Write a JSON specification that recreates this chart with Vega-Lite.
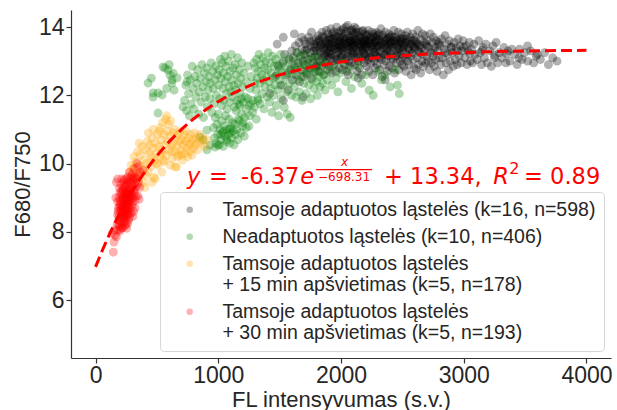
{
"$schema": "https://vega.github.io/schema/vega-lite/v6.json",
"width": 540,
"height": 348,
"autosize": {"type": "none"},
"padding": {"left": 71, "top": 10, "right": 6, "bottom": 52},
"background": "white",
"config": {
  "view": {"stroke": null},
  "font": "Liberation Sans",
  "axis": {"grid": false, "domainColor": "#333333", "tickColor": "#333333", "labelColor": "#262626", "titleColor": "#262626", "labelFont": "Liberation Sans", "titleFont": "Liberation Sans", "labelFontSize": 23, "titleFontSize": 22, "titleFontWeight": "normal", "tickSize": 5, "domainWidth": 1.2, "tickWidth": 1.2}
},
"datasets": {
"T": [
{"x":1420,"y":12.05},{"x":1465,"y":12.55},{"x":1490,"y":12.85},{"x":1480,"y":13.5},
{"x":1510,"y":12.3},{"x":1525,"y":12.95},{"x":1540,"y":13.2},{"x":1555,"y":12.6},{"x":1570,"y":12.15},{"x":1580,"y":13.05},{"x":1590,"y":12.75},{"x":1598,"y":13.3},{"x":1530,"y":11.85},{"x":1530,"y":13.7},
{"x":1605,"y":12.45},{"x":1612,"y":13.1},{"x":1620,"y":12.85},{"x":1628,"y":13.45},{"x":1635,"y":12.6},{"x":1642,"y":13.25},{"x":1650,"y":12.95},{"x":1657,"y":13.55},{"x":1663,"y":12.4},{"x":1670,"y":13.15},{"x":1676,"y":12.75},{"x":1683,"y":13.35},{"x":1690,"y":13.0},{"x":1695,"y":12.55},{"x":1699,"y":13.6},{"x":1690,"y":11.95},{"x":1620,"y":13.8},
{"x":1703,"y":13.2},{"x":1708,"y":12.9},{"x":1714,"y":13.5},{"x":1719,"y":12.65},{"x":1725,"y":13.35},{"x":1730,"y":13.05},{"x":1736,"y":13.7},{"x":1741,"y":12.8},{"x":1747,"y":13.25},{"x":1752,"y":13.45},{"x":1758,"y":12.5},{"x":1763,"y":13.1},{"x":1769,"y":13.6},{"x":1774,"y":12.95},{"x":1779,"y":13.3},{"x":1784,"y":13.5},{"x":1788,"y":12.7},{"x":1792,"y":13.15},{"x":1795,"y":13.4},{"x":1797,"y":12.85},{"x":1799,"y":13.65},{"x":1760,"y":13.85},
{"x":1802,"y":13.3},{"x":1806,"y":12.9},{"x":1809,"y":13.55},{"x":1813,"y":13.15},{"x":1817,"y":13.75},{"x":1820,"y":12.7},{"x":1824,"y":13.4},{"x":1828,"y":13.0},{"x":1831,"y":13.6},{"x":1835,"y":13.25},{"x":1839,"y":12.85},{"x":1842,"y":13.5},{"x":1846,"y":13.85},{"x":1850,"y":13.1},{"x":1853,"y":13.35},{"x":1857,"y":12.6},{"x":1860,"y":13.7},{"x":1864,"y":13.2},{"x":1867,"y":13.45},{"x":1871,"y":12.95},{"x":1874,"y":13.6},{"x":1878,"y":13.3},{"x":1881,"y":13.9},{"x":1885,"y":13.05},{"x":1888,"y":13.5},{"x":1891,"y":12.75},{"x":1894,"y":13.4},{"x":1896,"y":13.15},{"x":1898,"y":13.65},{"x":1899,"y":13.25},
{"x":1902,"y":13.5},{"x":1905,"y":12.85},{"x":1908,"y":13.3},{"x":1911,"y":13.7},{"x":1914,"y":13.1},{"x":1917,"y":13.95},{"x":1920,"y":13.4},{"x":1923,"y":12.65},{"x":1926,"y":13.55},{"x":1929,"y":13.2},{"x":1932,"y":13.8},{"x":1935,"y":13.0},{"x":1938,"y":13.45},{"x":1941,"y":13.65},{"x":1944,"y":12.9},{"x":1947,"y":13.35},{"x":1950,"y":13.75},{"x":1953,"y":13.15},{"x":1956,"y":13.55},{"x":1959,"y":12.7},{"x":1962,"y":13.4},{"x":1965,"y":14.0},{"x":1968,"y":13.25},{"x":1971,"y":13.6},{"x":1974,"y":13.05},{"x":1977,"y":13.5},{"x":1980,"y":13.85},{"x":1983,"y":13.3},{"x":1986,"y":12.8},{"x":1989,"y":13.45},{"x":1991,"y":13.7},{"x":1993,"y":13.1},{"x":1995,"y":13.6},{"x":1997,"y":13.35},{"x":1999,"y":13.9},
{"x":2002,"y":13.45},{"x":2005,"y":13.1},{"x":2008,"y":13.7},{"x":2011,"y":12.75},{"x":2014,"y":13.55},{"x":2017,"y":13.3},{"x":2020,"y":13.95},{"x":2023,"y":13.2},{"x":2026,"y":13.6},{"x":2029,"y":12.9},{"x":2032,"y":13.4},{"x":2035,"y":13.8},{"x":2038,"y":13.05},{"x":2041,"y":13.5},{"x":2044,"y":13.65},{"x":2047,"y":12.7},{"x":2050,"y":13.35},{"x":2053,"y":14.05},{"x":2056,"y":13.25},{"x":2059,"y":13.55},{"x":2062,"y":13.0},{"x":2065,"y":13.75},{"x":2068,"y":13.4},{"x":2071,"y":12.85},{"x":2074,"y":13.6},{"x":2077,"y":13.15},{"x":2080,"y":13.9},{"x":2083,"y":13.45},{"x":2086,"y":13.3},{"x":2089,"y":12.95},{"x":2091,"y":13.7},{"x":2093,"y":13.5},{"x":2095,"y":13.2},{"x":2097,"y":13.85},{"x":2099,"y":13.4},{"x":2040,"y":14.0},{"x":2060,"y":12.6},{"x":2085,"y":13.6},
{"x":2102,"y":13.55},{"x":2105,"y":13.2},{"x":2108,"y":13.8},{"x":2111,"y":12.9},{"x":2114,"y":13.45},{"x":2117,"y":13.65},{"x":2120,"y":13.1},{"x":2123,"y":13.95},{"x":2126,"y":13.35},{"x":2129,"y":12.7},{"x":2132,"y":13.6},{"x":2135,"y":13.25},{"x":2138,"y":13.75},{"x":2141,"y":13.0},{"x":2144,"y":13.5},{"x":2147,"y":13.4},{"x":2150,"y":12.8},{"x":2153,"y":13.85},{"x":2156,"y":13.3},{"x":2159,"y":13.6},{"x":2162,"y":13.15},{"x":2165,"y":13.7},{"x":2168,"y":12.6},{"x":2171,"y":13.45},{"x":2174,"y":13.55},{"x":2177,"y":13.05},{"x":2180,"y":13.9},{"x":2183,"y":13.35},{"x":2186,"y":13.65},{"x":2189,"y":12.95},{"x":2191,"y":13.5},{"x":2193,"y":13.2},{"x":2195,"y":13.8},{"x":2197,"y":13.4},{"x":2199,"y":13.6},{"x":2110,"y":14.0},{"x":2140,"y":12.5},{"x":2175,"y":13.3},
{"x":2202,"y":13.5},{"x":2205,"y":13.15},{"x":2208,"y":13.75},{"x":2211,"y":12.85},{"x":2214,"y":13.4},{"x":2217,"y":13.6},{"x":2220,"y":13.05},{"x":2223,"y":13.9},{"x":2226,"y":13.3},{"x":2229,"y":12.7},{"x":2232,"y":13.55},{"x":2235,"y":13.2},{"x":2238,"y":13.7},{"x":2241,"y":12.95},{"x":2244,"y":13.45},{"x":2247,"y":13.65},{"x":2250,"y":13.1},{"x":2253,"y":13.85},{"x":2256,"y":13.35},{"x":2259,"y":12.6},{"x":2262,"y":13.5},{"x":2265,"y":13.25},{"x":2268,"y":13.8},{"x":2271,"y":13.0},{"x":2274,"y":13.55},{"x":2277,"y":13.4},{"x":2280,"y":12.8},{"x":2283,"y":13.7},{"x":2286,"y":13.15},{"x":2289,"y":13.6},{"x":2291,"y":13.35},{"x":2293,"y":12.9},{"x":2295,"y":13.75},{"x":2297,"y":13.45},{"x":2299,"y":13.2},
{"x":2303,"y":13.6},{"x":2307,"y":13.1},{"x":2310,"y":13.8},{"x":2314,"y":12.75},{"x":2318,"y":13.45},{"x":2321,"y":13.3},{"x":2325,"y":13.95},{"x":2329,"y":13.05},{"x":2332,"y":13.55},{"x":2336,"y":12.55},{"x":2340,"y":13.4},{"x":2343,"y":13.7},{"x":2347,"y":13.2},{"x":2351,"y":12.9},{"x":2354,"y":13.6},{"x":2358,"y":13.35},{"x":2362,"y":13.85},{"x":2365,"y":13.0},{"x":2369,"y":13.5},{"x":2372,"y":13.25},{"x":2376,"y":12.7},{"x":2380,"y":13.65},{"x":2383,"y":13.15},{"x":2387,"y":13.45},{"x":2390,"y":13.8},{"x":2393,"y":12.85},{"x":2395,"y":13.55},{"x":2397,"y":13.3},{"x":2399,"y":13.7},{"x":2360,"y":12.45},
{"x":2403,"y":13.5},{"x":2407,"y":13.2},{"x":2411,"y":13.75},{"x":2415,"y":12.8},{"x":2418,"y":13.4},{"x":2422,"y":13.6},{"x":2426,"y":13.05},{"x":2430,"y":13.9},{"x":2434,"y":13.3},{"x":2437,"y":12.65},{"x":2441,"y":13.55},{"x":2445,"y":13.15},{"x":2449,"y":13.7},{"x":2452,"y":12.95},{"x":2456,"y":13.45},{"x":2460,"y":13.6},{"x":2464,"y":13.25},{"x":2467,"y":13.85},{"x":2471,"y":12.75},{"x":2475,"y":13.5},{"x":2479,"y":13.35},{"x":2482,"y":13.0},{"x":2486,"y":13.65},{"x":2490,"y":13.2},{"x":2493,"y":13.8},{"x":2496,"y":12.9},{"x":2498,"y":13.4},{"x":2499,"y":13.55},
{"x":2504,"y":13.3},{"x":2508,"y":13.65},{"x":2512,"y":12.85},{"x":2516,"y":13.45},{"x":2520,"y":13.1},{"x":2524,"y":13.75},{"x":2528,"y":12.7},{"x":2532,"y":13.55},{"x":2536,"y":13.2},{"x":2540,"y":13.85},{"x":2544,"y":13.0},{"x":2548,"y":13.4},{"x":2552,"y":13.6},{"x":2556,"y":12.9},{"x":2560,"y":13.3},{"x":2564,"y":13.7},{"x":2568,"y":13.15},{"x":2572,"y":12.6},{"x":2576,"y":13.5},{"x":2580,"y":13.25},{"x":2584,"y":13.8},{"x":2588,"y":13.05},{"x":2592,"y":13.45},{"x":2595,"y":12.8},{"x":2598,"y":13.6},
{"x":2604,"y":13.35},{"x":2609,"y":13.7},{"x":2613,"y":12.75},{"x":2618,"y":13.5},{"x":2622,"y":13.1},{"x":2627,"y":13.9},{"x":2631,"y":12.9},{"x":2636,"y":13.45},{"x":2640,"y":13.25},{"x":2645,"y":13.65},{"x":2649,"y":12.65},{"x":2654,"y":13.4},{"x":2658,"y":13.0},{"x":2663,"y":13.8},{"x":2667,"y":13.2},{"x":2672,"y":12.85},{"x":2676,"y":13.55},{"x":2681,"y":13.3},{"x":2685,"y":13.75},{"x":2690,"y":12.95},{"x":2694,"y":13.5},{"x":2698,"y":13.15},
{"x":2705,"y":13.6},{"x":2710,"y":13.0},{"x":2716,"y":13.4},{"x":2721,"y":12.75},{"x":2727,"y":13.8},{"x":2732,"y":13.25},{"x":2738,"y":12.95},{"x":2743,"y":13.55},{"x":2749,"y":13.15},{"x":2754,"y":13.7},{"x":2760,"y":12.85},{"x":2765,"y":13.4},{"x":2771,"y":13.05},{"x":2776,"y":13.6},{"x":2782,"y":12.7},{"x":2787,"y":13.3},{"x":2793,"y":13.5},{"x":2798,"y":13.1},
{"x":2806,"y":13.45},{"x":2813,"y":12.9},{"x":2820,"y":13.65},{"x":2827,"y":13.1},{"x":2834,"y":12.6},{"x":2841,"y":13.35},{"x":2848,"y":13.75},{"x":2855,"y":12.95},{"x":2862,"y":13.5},{"x":2869,"y":13.2},{"x":2876,"y":12.75},{"x":2883,"y":13.6},{"x":2890,"y":13.0},{"x":2897,"y":13.4},
{"x":2907,"y":13.25},{"x":2915,"y":12.85},{"x":2923,"y":13.55},{"x":2931,"y":13.05},{"x":2939,"y":13.4},{"x":2947,"y":12.9},{"x":2955,"y":13.65},{"x":2963,"y":13.15},{"x":2971,"y":13.45},{"x":2979,"y":12.95},{"x":2987,"y":13.3},{"x":2995,"y":13.6},
{"x":3008,"y":13.1},{"x":3018,"y":13.45},{"x":3027,"y":12.9},{"x":3036,"y":13.3},{"x":3046,"y":13.55},{"x":3055,"y":13.0},{"x":3064,"y":13.35},{"x":3073,"y":12.95},{"x":3083,"y":13.5},{"x":3092,"y":13.2},
{"x":3110,"y":13.05},{"x":3122,"y":13.6},{"x":3134,"y":13.25},{"x":3145,"y":12.9},{"x":3157,"y":13.4},{"x":3168,"y":13.1},{"x":3180,"y":13.5},{"x":3192,"y":12.95},
{"x":3212,"y":13.3},{"x":3225,"y":12.85},{"x":3238,"y":13.45},{"x":3251,"y":13.1},{"x":3264,"y":13.55},{"x":3277,"y":12.95},{"x":3290,"y":13.25},
{"x":3312,"y":13.1},{"x":3328,"y":13.4},{"x":3344,"y":12.95},{"x":3360,"y":13.3},{"x":3376,"y":13.0},{"x":3392,"y":13.35},
{"x":3415,"y":13.2},{"x":3435,"y":12.9},{"x":3455,"y":13.35},{"x":3475,"y":13.05},{"x":3495,"y":13.25},
{"x":3520,"y":13.0},{"x":3545,"y":13.3},{"x":3570,"y":12.95},{"x":3590,"y":13.15},
{"x":3625,"y":13.05},{"x":3660,"y":13.25},{"x":3690,"y":12.9},{"x":3725,"y":13.1},{"x":3760,"y":13.0},
{"x":1820,"y":13.62},{"x":1835,"y":13.48},{"x":1848,"y":13.72},{"x":1862,"y":13.38},{"x":1877,"y":13.55},{"x":1890,"y":13.8},{"x":1905,"y":13.62},{"x":1918,"y":13.42},{"x":1928,"y":13.67},{"x":1940,"y":13.85},{"x":1952,"y":13.48},{"x":1966,"y":13.72},{"x":1978,"y":13.38},{"x":1990,"y":13.58},{"x":2003,"y":13.82},{"x":2012,"y":13.42},{"x":2024,"y":13.66},{"x":2036,"y":13.52},{"x":2048,"y":13.88},{"x":2058,"y":13.44},{"x":2070,"y":13.68},{"x":2082,"y":13.58},{"x":2094,"y":13.92},{"x":2104,"y":13.46},{"x":2116,"y":13.62},{"x":2128,"y":13.84},{"x":2137,"y":13.52},{"x":2149,"y":13.7},{"x":2160,"y":13.44},{"x":2172,"y":13.88},{"x":2184,"y":13.56},{"x":2196,"y":13.66},{"x":2207,"y":13.42},{"x":2218,"y":13.78},{"x":2230,"y":13.52},{"x":2242,"y":13.62},{"x":2254,"y":13.46},{"x":2266,"y":13.72},{"x":2278,"y":13.58},{"x":2290,"y":13.84},{"x":2302,"y":13.44},{"x":2315,"y":13.64},{"x":2327,"y":13.52},{"x":2339,"y":13.76},{"x":2352,"y":13.46},{"x":2364,"y":13.62},{"x":2377,"y":13.38},{"x":2389,"y":13.68},{"x":2402,"y":13.56},{"x":2414,"y":13.44},{"x":2427,"y":13.7},{"x":2440,"y":13.5},{"x":2453,"y":13.62},{"x":2466,"y":13.38},{"x":2480,"y":13.58},{"x":2494,"y":13.66},{"x":2507,"y":13.42},{"x":2521,"y":13.52},{"x":2535,"y":13.64},{"x":2550,"y":13.36},{"x":2565,"y":13.5},{"x":2580,"y":13.6},{"x":2596,"y":13.4},{"x":2612,"y":13.55},{"x":2628,"y":13.3},{"x":2645,"y":13.48},{"x":1870,"y":13.15},{"x":1915,"y":13.22},{"x":1960,"y":13.05},{"x":2005,"y":13.18},{"x":2050,"y":13.12},{"x":2095,"y":13.25},{"x":2140,"y":13.1},{"x":2185,"y":13.22},{"x":2230,"y":13.12},{"x":2275,"y":13.26},{"x":2320,"y":13.12},{"x":2365,"y":13.2},{"x":2410,"y":13.06},{"x":2455,"y":13.18},{"x":2500,"y":13.1},{"x":1785,"y":13.4},{"x":1745,"y":13.58},{"x":1710,"y":13.32},{"x":1680,"y":13.7},{"x":2700,"y":13.45},{"x":2750,"y":13.32},{"x":2800,"y":13.55},{"x":2850,"y":13.25},{"x":2900,"y":13.42},{"x":2950,"y":13.3},{"x":3000,"y":13.4},{"x":3050,"y":13.22},{"x":3150,"y":13.32},{"x":3250,"y":13.18},{"x":3350,"y":13.22},{"x":3450,"y":13.1},{"x":3520,"y":13.45},{"x":3600,"y":13.2}
],
"N": [
{"x":428,"y":12.36},{"x":469,"y":12.07},{"x":469,"y":11.95},{"x":509,"y":12.07},{"x":542,"y":12.01},{"x":550,"y":12.83},{"x":566,"y":12.8},{"x":591,"y":12.74},{"x":607,"y":12.59},{"x":623,"y":12.45},{"x":623,"y":12.36},{"x":632,"y":12.65},{"x":664,"y":12.51},{"x":509,"y":11.48},{"x":746,"y":12.39},{"x":455,"y":12.5},{"x":580,"y":12.2},{"x":600,"y":12.9},{"x":713,"y":11.66},{"x":640,"y":12.15},
{"x":725,"y":11.85},{"x":735,"y":12.3},{"x":742,"y":11.55},{"x":750,"y":12.6},{"x":758,"y":12.05},{"x":765,"y":11.4},{"x":772,"y":12.45},{"x":780,"y":11.75},{"x":788,"y":12.85},{"x":795,"y":12.2},{"x":802,"y":11.6},{"x":810,"y":12.55},{"x":818,"y":11.95},{"x":825,"y":12.35},{"x":832,"y":12.75},{"x":840,"y":11.45},{"x":846,"y":12.1},{"x":853,"y":12.5},{"x":860,"y":11.8},{"x":867,"y":12.9},{"x":874,"y":12.25},{"x":880,"y":11.35},{"x":887,"y":12.65},{"x":893,"y":11.95},{"x":900,"y":12.4},{"x":906,"y":12.8},{"x":912,"y":11.65},{"x":918,"y":12.15},{"x":924,"y":12.55},{"x":930,"y":11.9},{"x":936,"y":12.35},{"x":942,"y":12.95},{"x":948,"y":11.5},{"x":954,"y":12.7},{"x":960,"y":12.2},{"x":966,"y":11.75},{"x":972,"y":12.45},{"x":978,"y":12.85},{"x":985,"y":12.0},{"x":992,"y":12.6},
{"x":908,"y":10.98},{"x":876,"y":10.69},{"x":933,"y":10.54},{"x":974,"y":10.48},{"x":998,"y":10.54},{"x":908,"y":10.4},{"x":850,"y":10.78},
{"x":1003,"y":12.3},{"x":1008,"y":12.75},{"x":1012,"y":11.9},{"x":1018,"y":13.05},{"x":1022,"y":12.5},{"x":1027,"y":11.7},{"x":1032,"y":12.95},{"x":1037,"y":12.2},{"x":1042,"y":12.65},{"x":1047,"y":11.85},{"x":1052,"y":13.15},{"x":1057,"y":12.4},{"x":1062,"y":12.85},{"x":1067,"y":12.05},{"x":1072,"y":11.6},{"x":1077,"y":12.55},{"x":1082,"y":13.0},{"x":1087,"y":12.25},{"x":1092,"y":11.8},{"x":1097,"y":12.7},{"x":1102,"y":12.1},{"x":1107,"y":13.2},{"x":1112,"y":12.45},{"x":1117,"y":11.95},{"x":1122,"y":12.8},{"x":1127,"y":12.3},{"x":1132,"y":11.65},{"x":1137,"y":12.9},{"x":1142,"y":12.15},{"x":1147,"y":12.6},{"x":1152,"y":11.85},{"x":1157,"y":13.1},{"x":1162,"y":12.35},{"x":1167,"y":11.75},{"x":1172,"y":12.75},{"x":1177,"y":12.05},{"x":1182,"y":12.5},{"x":1187,"y":11.9},{"x":1192,"y":12.95},{"x":1197,"y":12.25},{"x":1210,"y":12.65},{"x":1220,"y":11.95},{"x":1230,"y":12.4},{"x":1240,"y":12.85},{"x":1250,"y":11.7},{"x":1260,"y":12.2},{"x":1270,"y":12.55},{"x":1280,"y":11.85},{"x":1290,"y":12.95},{"x":1298,"y":12.35},
{"x":1145,"y":11.55},{"x":1160,"y":11.3},{"x":1175,"y":11.7},{"x":1190,"y":11.45},{"x":1205,"y":11.8},{"x":1215,"y":11.35},{"x":1228,"y":11.6},{"x":1240,"y":11.9},{"x":1255,"y":11.4},{"x":1268,"y":11.75},{"x":1280,"y":11.5},{"x":1295,"y":11.65},{"x":1310,"y":11.3},{"x":1325,"y":11.85},{"x":1200,"y":11.2},{"x":1250,"y":11.1},
{"x":962,"y":11.05},{"x":968,"y":10.75},{"x":975,"y":11.35},{"x":982,"y":10.6},{"x":988,"y":11.15},{"x":995,"y":10.85},{"x":1002,"y":11.45},{"x":1008,"y":10.55},{"x":1015,"y":11.0},{"x":1022,"y":10.7},{"x":1028,"y":11.25},{"x":1035,"y":10.9},{"x":1041,"y":10.5},{"x":1048,"y":11.1},{"x":1055,"y":10.8},{"x":1061,"y":11.4},{"x":1068,"y":10.65},{"x":1075,"y":11.0},{"x":1082,"y":10.85},{"x":1088,"y":11.3},{"x":1095,"y":10.6},{"x":1102,"y":11.05},{"x":1108,"y":10.75},{"x":1115,"y":11.2},{"x":1122,"y":10.95},{"x":1128,"y":10.55},{"x":1135,"y":11.15},{"x":1142,"y":10.85},{"x":1150,"y":11.0},{"x":1160,"y":10.7},{"x":1172,"y":11.25},{"x":1185,"y":10.9},{"x":1198,"y":11.1},{"x":1212,"y":10.8},{"x":1228,"y":11.05},{"x":1040,"y":10.95},{"x":1070,"y":10.7},{"x":1100,"y":10.9},{"x":1020,"y":10.85},{"x":1090,"y":11.0},
{"x":1302,"y":12.8},{"x":1307,"y":12.15},{"x":1312,"y":13.05},{"x":1317,"y":12.5},{"x":1322,"y":11.9},{"x":1327,"y":12.7},{"x":1332,"y":13.2},{"x":1337,"y":12.35},{"x":1342,"y":11.75},{"x":1347,"y":12.9},{"x":1352,"y":12.6},{"x":1357,"y":12.05},{"x":1362,"y":13.1},{"x":1367,"y":12.45},{"x":1372,"y":11.6},{"x":1377,"y":12.8},{"x":1382,"y":12.25},{"x":1387,"y":13.0},{"x":1392,"y":12.55},{"x":1397,"y":11.95},{"x":1402,"y":12.75},{"x":1407,"y":13.25},{"x":1412,"y":12.4},{"x":1417,"y":11.8},{"x":1422,"y":12.95},{"x":1427,"y":12.2},{"x":1432,"y":12.65},{"x":1437,"y":11.5},{"x":1442,"y":13.15},{"x":1447,"y":12.5},{"x":1452,"y":12.0},{"x":1457,"y":12.85},{"x":1462,"y":12.3},{"x":1467,"y":13.05},{"x":1472,"y":11.7},{"x":1477,"y":12.6},{"x":1482,"y":12.9},{"x":1487,"y":12.15},{"x":1492,"y":11.4},{"x":1497,"y":12.75},{"x":1502,"y":12.45},{"x":1508,"y":13.2},{"x":1514,"y":11.9},{"x":1520,"y":12.7},{"x":1526,"y":12.3},{"x":1532,"y":13.0},{"x":1538,"y":11.65},{"x":1544,"y":12.55},{"x":1550,"y":12.85},{"x":1556,"y":12.1},{"x":1562,"y":11.45},{"x":1568,"y":12.65},{"x":1574,"y":13.1},{"x":1580,"y":12.35},{"x":1586,"y":11.35},{"x":1592,"y":12.8},{"x":1598,"y":12.0},
{"x":1605,"y":12.6},{"x":1612,"y":13.0},{"x":1619,"y":12.25},{"x":1626,"y":12.75},{"x":1633,"y":11.95},{"x":1640,"y":13.25},{"x":1647,"y":12.45},{"x":1654,"y":12.85},{"x":1661,"y":12.1},{"x":1668,"y":13.1},{"x":1675,"y":12.55},{"x":1682,"y":11.85},{"x":1689,"y":12.9},{"x":1696,"y":12.35},{"x":1703,"y":12.7},{"x":1710,"y":13.2},{"x":1717,"y":12.05},{"x":1724,"y":12.6},{"x":1731,"y":12.95},{"x":1738,"y":12.3},{"x":1745,"y":12.75},{"x":1752,"y":11.9},{"x":1759,"y":13.05},{"x":1766,"y":12.45},{"x":1773,"y":12.8},{"x":1780,"y":12.2},{"x":1787,"y":12.65},{"x":1794,"y":13.15},{"x":1801,"y":12.4},{"x":1808,"y":12.0},{"x":1815,"y":12.85},{"x":1822,"y":12.55},{"x":1829,"y":12.25},{"x":1836,"y":12.7},{"x":1843,"y":13.0},{"x":1850,"y":12.35},{"x":1860,"y":12.6},{"x":1870,"y":12.15},{"x":1880,"y":12.9},{"x":1890,"y":12.45},
{"x":1910,"y":12.7},{"x":1925,"y":12.3},{"x":1940,"y":12.85},{"x":1960,"y":12.5},{"x":1975,"y":12.1},{"x":1995,"y":12.65},{"x":2015,"y":12.95},{"x":2040,"y":12.4},{"x":2060,"y":12.75},{"x":2085,"y":12.2},{"x":2110,"y":12.55},{"x":2140,"y":12.85},{"x":2170,"y":12.35},{"x":2200,"y":12.6},{"x":2230,"y":12.15},{"x":2262,"y":12.0},{"x":2300,"y":12.7},{"x":2330,"y":12.45},{"x":2360,"y":12.6},{"x":2400,"y":12.25},{"x":2440,"y":12.75},{"x":2460,"y":12.3},{"x":2475,"y":12.05}
],
"T15": [
{"x":305,"y":9.85},{"x":312,"y":10.2},{"x":320,"y":9.6},{"x":328,"y":10.05},{"x":335,"y":9.75},{"x":342,"y":10.35},{"x":350,"y":9.5},{"x":358,"y":9.95},{"x":365,"y":10.25},{"x":372,"y":9.7},{"x":380,"y":10.5},{"x":388,"y":10.1},{"x":395,"y":9.85},{"x":402,"y":9.3},{"x":408,"y":10.4},{"x":415,"y":10.0},{"x":422,"y":10.65},{"x":428,"y":9.75},{"x":435,"y":10.3},{"x":442,"y":10.55},{"x":448,"y":9.9},{"x":455,"y":10.2},{"x":462,"y":10.75},{"x":468,"y":10.45},{"x":475,"y":9.6},{"x":482,"y":10.1},{"x":488,"y":10.6},{"x":495,"y":10.3},{"x":502,"y":10.85},{"x":508,"y":9.95},{"x":515,"y":10.5},{"x":522,"y":10.2},{"x":528,"y":11.05},{"x":535,"y":10.7},{"x":540,"y":10.4},{"x":546,"y":11.2},{"x":552,"y":10.1},{"x":558,"y":10.85},{"x":564,"y":10.55},{"x":570,"y":11.3},{"x":576,"y":10.25},{"x":582,"y":10.95},{"x":588,"y":10.65},{"x":594,"y":11.15},{"x":600,"y":10.4},{"x":606,"y":10.8},{"x":612,"y":11.25},{"x":618,"y":10.55},{"x":624,"y":10.15},{"x":630,"y":10.9},{"x":636,"y":10.6},{"x":642,"y":11.0},{"x":648,"y":10.35},{"x":654,"y":10.75},{"x":660,"y":9.9},{"x":666,"y":10.5},{"x":672,"y":10.85},{"x":678,"y":10.25},{"x":684,"y":10.65},{"x":690,"y":10.95},{"x":696,"y":10.4},{"x":702,"y":10.7},{"x":708,"y":10.1},{"x":714,"y":10.55},{"x":720,"y":10.85},{"x":726,"y":10.3},{"x":732,"y":10.65},{"x":738,"y":10.95},{"x":744,"y":10.45},{"x":750,"y":10.2},{"x":756,"y":10.75},{"x":762,"y":10.55},{"x":768,"y":10.35},{"x":774,"y":10.85},{"x":780,"y":10.6},{"x":786,"y":10.25},{"x":792,"y":10.7},{"x":798,"y":10.45},{"x":806,"y":10.9},{"x":814,"y":10.55},{"x":822,"y":10.75},{"x":830,"y":10.4},{"x":840,"y":10.65},{"x":850,"y":10.85},{"x":862,"y":10.6},{"x":875,"y":10.75},{"x":890,"y":10.5},{"x":905,"y":10.7},{"x":485,"y":9.55},{"x":648,"y":9.9},{"x":560,"y":10.05},{"x":610,"y":9.95},{"x":430,"y":10.9},{"x":390,"y":9.45},{"x":355,"y":10.6},{"x":470,"y":11.0},{"x":520,"y":10.95},{"x":580,"y":11.4},{"x":545,"y":10.3},{"x":620,"y":10.35},{"x":665,"y":10.2},{"x":700,"y":10.25},{"x":450,"y":10.05},{"x":500,"y":10.0},{"x":540,"y":9.75},{"x":460,"y":9.45},{"x":410,"y":9.65},{"x":280,"y":9.75},{"x":290,"y":9.95}
],
"T30": [
{"x":300,"y":9.7},{"x":315,"y":9.85},{"x":338,"y":10.0},{"x":350,"y":9.65},{"x":365,"y":9.75},{"x":387,"y":9.8},{"x":290,"y":9.62},{"x":325,"y":9.6},{"x":275,"y":9.75},{"x":345,"y":9.9},
{"x":205,"y":9.4},{"x":215,"y":9.55},{"x":222,"y":9.25},{"x":230,"y":9.45},{"x":238,"y":9.3},{"x":245,"y":9.55},{"x":252,"y":9.2},{"x":258,"y":9.4},{"x":265,"y":9.5},{"x":272,"y":9.3},{"x":278,"y":9.45},{"x":285,"y":9.25},{"x":292,"y":9.55},{"x":298,"y":9.35},{"x":305,"y":9.5},{"x":312,"y":9.2},{"x":318,"y":9.4},{"x":325,"y":9.3},{"x":332,"y":9.55},{"x":340,"y":9.35},{"x":350,"y":9.45},{"x":360,"y":9.3},{"x":248,"y":9.38},{"x":268,"y":9.22},{"x":288,"y":9.42},{"x":228,"y":9.33},{"x":310,"y":9.58},{"x":195,"y":9.28},{"x":262,"y":9.6},{"x":235,"y":9.52},{"x":170,"y":9.45},{"x":180,"y":9.55},
{"x":190,"y":9.0},{"x":198,"y":9.15},{"x":205,"y":8.85},{"x":210,"y":9.1},{"x":216,"y":8.95},{"x":222,"y":9.18},{"x":228,"y":8.82},{"x":232,"y":9.05},{"x":238,"y":8.9},{"x":244,"y":9.12},{"x":248,"y":8.98},{"x":254,"y":8.85},{"x":258,"y":9.08},{"x":264,"y":8.92},{"x":268,"y":9.15},{"x":274,"y":8.88},{"x":278,"y":9.02},{"x":284,"y":9.18},{"x":290,"y":8.95},{"x":296,"y":9.1},{"x":302,"y":8.86},{"x":308,"y":9.0},{"x":315,"y":9.15},{"x":322,"y":8.92},{"x":330,"y":9.05},{"x":238,"y":9.02},{"x":252,"y":9.16},{"x":262,"y":8.82},{"x":272,"y":9.06},{"x":282,"y":8.9},{"x":220,"y":9.03},{"x":245,"y":8.93},{"x":256,"y":8.98},{"x":266,"y":9.1},{"x":200,"y":8.92},{"x":212,"y":9.2},{"x":292,"y":9.04},{"x":226,"y":8.96},{"x":276,"y":9.12},{"x":180,"y":8.88},{"x":165,"y":9.0},{"x":345,"y":9.05},{"x":355,"y":8.95},
{"x":180,"y":8.5},{"x":186,"y":8.7},{"x":192,"y":8.45},{"x":198,"y":8.62},{"x":204,"y":8.78},{"x":208,"y":8.42},{"x":214,"y":8.58},{"x":218,"y":8.72},{"x":224,"y":8.48},{"x":228,"y":8.65},{"x":234,"y":8.78},{"x":238,"y":8.52},{"x":244,"y":8.68},{"x":248,"y":8.44},{"x":254,"y":8.6},{"x":258,"y":8.75},{"x":264,"y":8.5},{"x":270,"y":8.66},{"x":276,"y":8.42},{"x":282,"y":8.7},{"x":290,"y":8.55},{"x":298,"y":8.76},{"x":230,"y":8.58},{"x":242,"y":8.62},{"x":252,"y":8.7},{"x":220,"y":8.55},{"x":210,"y":8.66},{"x":262,"y":8.62},{"x":236,"y":8.46},{"x":196,"y":8.76},{"x":272,"y":8.52},{"x":184,"y":8.6},{"x":226,"y":8.74},{"x":246,"y":8.54},{"x":268,"y":8.78},{"x":310,"y":8.6},{"x":322,"y":8.7},{"x":305,"y":8.45},
{"x":175,"y":8.2},{"x":182,"y":8.05},{"x":188,"y":8.35},{"x":194,"y":8.15},{"x":200,"y":8.3},{"x":206,"y":8.08},{"x":212,"y":8.25},{"x":218,"y":8.38},{"x":224,"y":8.12},{"x":230,"y":8.28},{"x":238,"y":8.18},{"x":246,"y":8.33},{"x":254,"y":8.1},{"x":262,"y":8.25},{"x":270,"y":8.35},{"x":198,"y":8.02},{"x":214,"y":8.12},{"x":232,"y":8.38},{"x":190,"y":8.22},{"x":250,"y":8.22},
{"x":160,"y":7.9},{"x":150,"y":7.7},{"x":145,"y":7.4},{"x":170,"y":7.85},{"x":158,"y":8.05},{"x":135,"y":7.95}
],
"fit": [
{"x":0,"y":6.97},{"x":50,"y":7.41},{"x":100,"y":7.82},{"x":150,"y":8.2},{"x":200,"y":8.556},{"x":250,"y":8.887},{"x":300,"y":9.194},{"x":350,"y":9.481},{"x":400,"y":9.747},{"x":450,"y":9.996},{"x":500,"y":10.227},{"x":600,"y":10.642},{"x":700,"y":11.002},{"x":800,"y":11.314},{"x":900,"y":11.584},{"x":1000,"y":11.819},{"x":1100,"y":12.021},{"x":1200,"y":12.198},{"x":1300,"y":12.35},{"x":1400,"y":12.482},{"x":1500,"y":12.597},{"x":1600,"y":12.696},{"x":1800,"y":12.856},{"x":2000,"y":12.977},{"x":2200,"y":13.067},{"x":2400,"y":13.135},{"x":2600,"y":13.186},{"x":2800,"y":13.224},{"x":3000,"y":13.253},{"x":3200,"y":13.275},{"x":3400,"y":13.291},{"x":3600,"y":13.303},{"x":3800,"y":13.312},{"x":4000,"y":13.319}
]
},
"layer": [
{
  "data": {"name": "T"},
  "mark": {"type": "circle", "size": 60, "opacity": 0.3, "stroke": "black", "strokeWidth": 1.1},
  "encoding": {
    "x": {"field": "x", "type": "quantitative", "scale": {"domain": [-200, 4200], "nice": false, "zero": false}, "axis": {"values": [0, 1000, 2000, 3000, 4000], "format": "d", "title": "FL intensyvumas (s.v.)", "labelPadding": 1, "titlePadding": 2, "labelFlush": false}},
    "y": {"field": "y", "type": "quantitative", "scale": {"domain": [4.3, 14.5], "nice": false, "zero": false}, "axis": {"values": [6, 8, 10, 12, 14], "title": "F680/F750", "labelPadding": 2, "titlePadding": 4}},
    "color": {"datum": "T", "type": "nominal",
      "scale": {"domain": ["T", "N", "T15", "T30"], "range": ["black", "green", "orange", "red"]},
      "legend": {"title": null, "orient": "bottom-right", "offset": 7,
        "labelExpr": "datum.value == 'T' ? 'Tamsoje adaptuotos ląstelės (k=16, n=598)' : datum.value == 'N' ? 'Neadaptuotos ląstelės (k=10, n=406)' : datum.value == 'T15' ? ['Tamsoje adaptuotos ląstelės', '+ 15 min apšvietimas (k=5, n=178)'] : ['Tamsoje adaptuotos ląstelės', '+ 30 min apšvietimas (k=5, n=193)']",
        "labelFont": "Liberation Sans", "labelFontSize": 19.5, "labelColor": "#262626", "labelLimit": 600,
        "symbolType": "circle", "symbolSize": 42, "symbolOpacity": 0.3, "symbolStrokeWidth": 0,
        "labelOffset": 23, "rowPadding": 6, "padding": 8, "symbolOffset": 12,
        "fillColor": "rgba(255,255,255,0.8)", "strokeColor": "#d6d6d6", "cornerRadius": 4,
        "encode": {"labels": {"update": {"lineHeight": {"value": 22.5}}}}}
    }
  }
},
{
  "data": {"name": "N"},
  "mark": {"type": "circle", "size": 60, "opacity": 0.3, "stroke": "green", "strokeWidth": 1.1},
  "encoding": {"x": {"field": "x", "type": "quantitative"}, "y": {"field": "y", "type": "quantitative"}, "color": {"datum": "N", "type": "nominal"}}
},
{
  "data": {"name": "T15"},
  "mark": {"type": "circle", "size": 60, "opacity": 0.3, "stroke": "orange", "strokeWidth": 1.1},
  "encoding": {"x": {"field": "x", "type": "quantitative"}, "y": {"field": "y", "type": "quantitative"}, "color": {"datum": "T15", "type": "nominal"}}
},
{
  "data": {"name": "T30"},
  "mark": {"type": "circle", "size": 60, "opacity": 0.3, "stroke": "red", "strokeWidth": 1.1},
  "encoding": {"x": {"field": "x", "type": "quantitative"}, "y": {"field": "y", "type": "quantitative"}, "color": {"datum": "T30", "type": "nominal"}}
},
{
  "data": {"name": "fit"},
  "mark": {"type": "line", "color": "red", "strokeWidth": 3, "strokeDash": [11, 5]},
  "encoding": {"x": {"field": "x", "type": "quantitative"}, "y": {"field": "y", "type": "quantitative"}}
},
{
  "data": {"values": [{"x": 745, "y": 9.40, "t": "y"}, {"x": 1667, "y": 9.40, "t": "e"}, {"x": 3240, "y": 9.40, "t": "R"}]},
  "mark": {"type": "text", "font": "DejaVu Sans", "fontStyle": "italic", "fontSize": 22.5, "color": "red", "align": "left", "baseline": "alphabetic"},
  "encoding": {"x": {"field": "x", "type": "quantitative"}, "y": {"field": "y", "type": "quantitative"}, "text": {"field": "t"}}
},
{
  "data": {"values": [{"x": 925, "y": 9.40, "t": "="}, {"x": 1186, "y": 9.40, "t": "-6.37"}, {"x": 2351, "y": 9.40, "t": "+ 13.34,"}, {"x": 3492, "y": 9.40, "t": "= 0.89"}]},
  "mark": {"type": "text", "font": "DejaVu Sans", "fontSize": 22.5, "color": "red", "align": "left", "baseline": "alphabetic"},
  "encoding": {"x": {"field": "x", "type": "quantitative"}, "y": {"field": "y", "type": "quantitative"}, "text": {"field": "t"}}
},
{
  "data": {"values": [{"x": 2029, "y": 9.93, "t": "x"}]},
  "mark": {"type": "text", "font": "DejaVu Sans", "fontStyle": "italic", "fontSize": 12, "color": "red", "align": "center", "baseline": "alphabetic"},
  "encoding": {"x": {"field": "x", "type": "quantitative"}, "y": {"field": "y", "type": "quantitative"}, "text": {"field": "t"}}
},
{
  "data": {"values": [{"x": 2025, "y": 9.50, "t": "−698.31"}]},
  "mark": {"type": "text", "font": "DejaVu Sans", "fontSize": 12, "color": "red", "align": "center", "baseline": "alphabetic"},
  "encoding": {"x": {"field": "x", "type": "quantitative"}, "y": {"field": "y", "type": "quantitative"}, "text": {"field": "t"}}
},
{
  "data": {"values": [{"x": 3370, "y": 9.69, "t": "2"}]},
  "mark": {"type": "text", "font": "DejaVu Sans", "fontSize": 16, "color": "red", "align": "left", "baseline": "alphabetic"},
  "encoding": {"x": {"field": "x", "type": "quantitative"}, "y": {"field": "y", "type": "quantitative"}, "text": {"field": "t"}}
},
{
  "data": {"values": [{"x": 1797, "x2": 2253, "y": 9.82}]},
  "mark": {"type": "rule", "color": "red", "strokeWidth": 1.2},
  "encoding": {"x": {"field": "x", "type": "quantitative"}, "x2": {"field": "x2"}, "y": {"field": "y", "type": "quantitative"}}
}
]
}
